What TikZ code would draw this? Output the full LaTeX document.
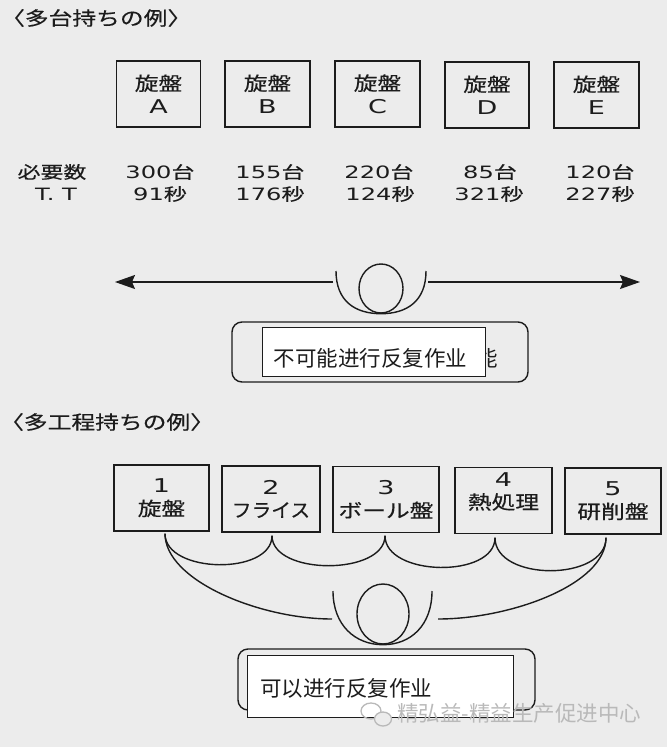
\documentclass[tikz,border=0pt]{standalone}
\usepackage{fontspec}
\usepackage{graphicx}
\usetikzlibrary{arrows.meta,shapes.geometric}
\newfontfamily\jp[FakeStretch=1.25,FakeBold=0.4]{Noto Sans CJK JP}
\newfontfamily\jpn[FakeStretch=1.35,FakeBold=0.4]{Noto Sans CJK JP}
\newfontfamily\dg[FakeStretch=1.42]{DejaVu Sans}
\newfontfamily\zhfont{Noto Sans CJK SC}
\definecolor{paper}{RGB}{236,236,236}
\definecolor{ink}{RGB}{28,28,28}
\definecolor{wm}{RGB}{185,185,185}
\begin{document}
\begin{tikzpicture}[x=1pt,y=-1pt,
  every node/.style={text=ink},
  mbox/.style={draw=ink, line width=1.4pt, minimum height=66pt, inner sep=0pt},
  boxtxt/.style={align=center, inner sep=0pt, font=\jp\fontsize{19}{23}\selectfont},
  title/.style={anchor=west, inner sep=0pt, font=\jp\fontsize{19}{19}\selectfont},
  num/.style={inner sep=0pt, font=\jpn\fontsize{17}{17}\selectfont},
  rbox/.style={draw=ink, line width=1.4pt, rounded corners=10pt, inner sep=0pt},
  wbox/.style={draw=ink, line width=0.9pt, fill=white, inner sep=0pt},
  zh/.style={inner sep=0pt, font=\zhfont\fontsize{21.5}{21.5}\selectfont},
  conn/.style={draw=ink, line width=1.4pt},
  loopst/.style={draw=ink, line width=1.4pt, ellipse, inner sep=0pt},
  tip/.style={-{Stealth[length=20pt,width=14pt,inset=3pt]}},
]
\fill[paper] (0,0) rectangle (667,747);
\useasboundingbox (0,0) rectangle (667,747);

% ---------- part 1 ----------
\node[title] (t1) at (1,18) {〈多台持ちの例〉};

\node[mbox, minimum width=84pt] (A) at (158.5,94) {};
\node[mbox, minimum width=85pt] (B) at (267.5,94) {};
\node[mbox, minimum width=85pt] (C) at (377.5,94) {};
\node[mbox, minimum width=84pt] (D) at (487,95) {};
\node[mbox, minimum width=85pt] (E) at (596.5,95) {};
\node[boxtxt] (tA) at (A.center) {旋盤\\{\dg A}};
\node[boxtxt] (tB) at (B.center) {旋盤\\{\dg B}};
\node[boxtxt] (tC) at (C.center) {旋盤\\{\dg C}};
\node[boxtxt] (tD) at (D.center) {旋盤\\{\dg D}};
\node[boxtxt] (tE) at (E.center) {旋盤\\{\dg E}};

\node[num] (h1) at (52,172) {必要数};
\node[num] (h2) at (56,194) {\dg T. T};
\node[num] (nA) at (160,172) {{\dg 300}台};
\node[num] (sA) at (160,194) {{\dg 91}秒};
\node[num] (nB) at (270,172) {{\dg 155}台};
\node[num] (sB) at (270,194) {{\dg 176}秒};
\node[num] (nC) at (379,172) {{\dg 220}台};
\node[num] (sC) at (380,194) {{\dg 124}秒};
\node[num] (nD) at (490,172) {{\dg 85}台};
\node[num] (sD) at (489,194) {{\dg 321}秒};
\node[num] (nE) at (600,172) {{\dg 120}台};
\node[num] (sE) at (600,194) {{\dg 227}秒};

% loop and arrows
\node[loopst, minimum width=44pt, minimum height=49pt] (loopT) at (381,288.5) {};
\coordinate (oTl) at (336,271);
\coordinate (oTr) at (426,271);
\draw[conn] (oTl) .. controls +(0,30) and +(-26,0) .. (loopT.south);
\draw[conn] (oTr) .. controls +(0,30) and +(26,0) .. (loopT.south);
\coordinate (lA) at (333,282);
\coordinate (tipL) at (115,282);
\coordinate (rA) at (428,282);
\coordinate (tipR) at (640,282);
\draw[conn, tip] (lA) -- (tipL);
\draw[conn, tip] (rA) -- (tipR);

\node[rbox, minimum width=296pt, minimum height=60pt] (rr1) at (380,352) {};
\node[zh] (hid) at (487,358) {能};
\node[wbox, minimum width=223pt, minimum height=49pt] (wb1) at (373.5,351.5) {};
\node[zh] (txt1) at (370.5,358) {不可能进行反复作业};

% ---------- part 2 ----------
\node[title] (t2) at (0,422) {〈多工程持ちの例〉};

\node[mbox, minimum width=95pt] (b1) at (161.5,498) {};
\node[mbox, minimum width=98pt] (b2) at (271,499) {};
\node[mbox, minimum width=106pt] (b3) at (386,499.5) {};
\node[mbox, minimum width=97pt] (b4) at (503.5,500.5) {};
\node[mbox, minimum width=96pt] (b5) at (613,501) {};
\node[boxtxt] (x1) at (b1.center) {{\dg 1}\\旋盤};
\node[boxtxt] (x2) at (b2.center) {{\dg 2}\\\scalebox{0.83}[1]{フライス}};
\node[boxtxt] (x3) at (b3.center) {{\dg 3}\\ボール盤};
\node[boxtxt] (x4) at ([yshift=9pt]b4.center) {{\dg 4}\\熱処理};
\node[boxtxt] (x5) at (b5.center) {{\dg 5}\\研削盤};

\coordinate (c1) at ([xshift=3.5pt,yshift=-2pt]b1.south);
\coordinate (c2) at ([xshift=1pt,yshift=-3pt]b2.south);
\coordinate (c3) at ([xshift=-1pt,yshift=-2.5pt]b3.south);
\coordinate (c4) at ([xshift=-8.5pt,yshift=-3.5pt]b4.south);
\coordinate (c5) at ([xshift=-7pt,yshift=-3pt]b5.south);

\draw[conn] (c1) .. controls +(0,40) and +(0,40) .. (c2);
\draw[conn] (c2) .. controls +(0,40) and +(0,40) .. (c3);
\draw[conn] (c3) .. controls +(0,41) and +(0,41) .. (c4);
\draw[conn] (c4) .. controls +(0,44) and +(0,44) .. (c5);

\coordinate (L) at (332,619);
\coordinate (R) at (438,619);
\draw[conn] (c1) .. controls +(0,47) and +(-72,0) .. (L);
\draw[conn] (c5) .. controls +(0,47) and +(72,0) .. (R);

\node[loopst, minimum width=52pt, minimum height=60pt] (loopB) at (383,614) {};
\coordinate (oBl) at (333,591);
\coordinate (oBr) at (432,591);
\draw[conn] (oBl) .. controls +(0,34) and +(-28,0) .. (loopB.south);
\draw[conn] (oBr) .. controls +(0,34) and +(28,0) .. (loopB.south);

\node[rbox, minimum width=297pt, minimum height=61pt] (rr2) at (386.5,679.5) {};
\node[wbox, minimum width=266pt, minimum height=62pt] (wb2) at (380,686) {};
\node[zh, anchor=west] (txt2) at (260,688) {可以进行反复作业};

% watermark
\draw[wm, line width=1.3pt] (371,711) ellipse (10pt and 8pt);
\draw[wm, line width=1.3pt, fill=paper] (383,719) ellipse (8.5pt and 7pt);
\node[zh, anchor=west, text=wm] (wmt) at (397,713) {精弘益-精益生产促进中心};
\end{tikzpicture}
\end{document}
